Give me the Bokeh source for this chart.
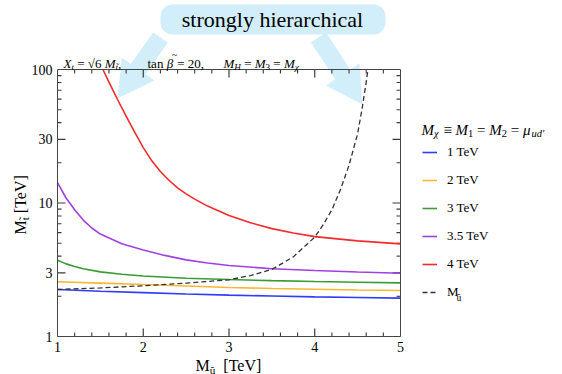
import math
from bokeh.plotting import figure
from bokeh.models import (LinearAxis, LogAxis, FixedTicker, Legend, LegendItem, Label,
                          PolyAnnotation, BoxAnnotation, Range1d, PrintfTickFormatter)
from bokeh.embed import file_html
from bokeh.resources import INLINE

SERIF = "Liberation Serif"

# ---------------- data ----------------
x_ticks = [1, 2, 3, 4, 5]
x_minor = [1.2, 1.4, 1.6, 1.8, 2.2, 2.4, 2.6, 2.8, 3.2, 3.4, 3.6, 3.8, 4.2, 4.4, 4.6, 4.8]
y_ticks = [1, 3, 10, 30, 100]
y_minor = [2, 4, 5, 6, 7, 8, 9, 20, 40, 50, 60, 70, 80, 90]

blue_x = [1.0, 1.5, 2.0, 2.5, 3.0, 3.5, 4.0, 4.5, 5.0]
blue_y = [2.25, 2.18, 2.13, 2.08, 2.04, 2.01, 1.98, 1.96, 1.94]

orange_x = [1.0, 1.5, 2.0, 2.5, 3.0, 3.5, 4.0, 4.5, 5.0]
orange_y = [2.57, 2.51, 2.45, 2.39, 2.33, 2.29, 2.26, 2.23, 2.21]

green_x = [1.0, 1.1, 1.2, 1.3, 1.5, 1.75, 2.0, 2.5, 3.0, 3.5, 4.0, 4.5, 5.0]
green_y = [3.72, 3.50, 3.35, 3.22, 3.05, 2.93, 2.84, 2.73, 2.67, 2.62, 2.58, 2.55, 2.52]

purple_x = [1.0, 1.1, 1.2, 1.3, 1.4, 1.5, 1.75, 2.0, 2.25, 2.5, 2.75, 3.0, 3.5, 4.0, 4.5, 5.0]
purple_y = [14.2, 10.9, 8.9, 7.45, 6.5, 5.85, 4.95, 4.45, 4.05, 3.75, 3.55, 3.40, 3.22, 3.12, 3.04, 2.98]

red_x = [1.53, 1.6, 1.7, 1.8, 1.9, 2.0, 2.1, 2.2, 2.3, 2.4, 2.5, 2.6, 2.75, 3.0, 3.25, 3.5, 3.75, 4.0, 4.5, 5.0]
red_y = [100, 80.4, 59.6, 44.7, 33.9, 26.0, 20.7, 17.2, 14.8, 13.0, 11.7, 10.7, 9.48, 8.05, 7.11,
         6.43, 5.96, 5.60, 5.20, 4.94]

dash_x = [1.0, 1.5, 2.0, 2.5, 3.0, 3.25, 3.5, 3.75, 4.0, 4.1, 4.2, 4.3, 4.4, 4.5, 4.55, 4.6, 4.62]
dash_y = [2.25, 2.31, 2.40, 2.51, 2.66, 2.86, 3.18, 3.95, 5.55, 6.9, 8.9, 12.6, 19.2, 33, 50, 80, 100]

series_labels = ["1 TeV", "2 TeV", "3 TeV", "3.5 TeV", "4 TeV", "M"]
series_colors = ["#2f3cff", "#f8b735", "#3a9b35", "#a040e0", "#f52a2a", "#333333"]

# ---------------- layout: frame covers the whole canvas ----------------
W, H = 562, 374
FL, FR, FT, FB = 57, 400, 69, 336          # canvas px of the plot box edges
px_per_x = (FR - FL) / (x_ticks[-1] - x_ticks[0])
px_per_dec = (FB - FT) / math.log10(y_ticks[-1] / y_ticks[0])
xr = Range1d(x_ticks[0] - FL / px_per_x, x_ticks[-1] + (W - FR) / px_per_x)
yr = Range1d(y_ticks[0] / 10 ** ((H - FB) / px_per_dec), y_ticks[-1] * 10 ** (FT / px_per_dec))

p = figure(width=W, height=H, output_backend="svg", toolbar_location=None,
           x_range=xr, y_range=yr, y_axis_type="log",
           min_border_left=0, min_border_right=0, min_border_top=0, min_border_bottom=0,
           background_fill_color="white", border_fill_color="white",
           outline_line_color=None)
p.title.visible = False
p.grid.visible = False

LINE = "#444444"
TICK = "#3a3a3a"
xb = (x_ticks[0], x_ticks[-1])
yb = (y_ticks[0], y_ticks[-1])


def no_ticks(ax):
    ax.major_tick_in = 0
    ax.major_tick_out = 0
    ax.minor_tick_in = 0
    ax.minor_tick_out = 0


# labelled axes (lines + tick labels)
bx = p.xaxis[0]
by = p.yaxis[0]
bx.ticker = FixedTicker(ticks=x_ticks)
by.ticker = FixedTicker(ticks=y_ticks)
by.formatter = PrintfTickFormatter(format="%d")
for ax, fl, bd in ((bx, y_ticks[0], xb), (by, x_ticks[0], yb)):
    ax.bounds = bd
    ax.fixed_location = fl
    ax.axis_line_color = LINE
    no_ticks(ax)
    ax.major_label_text_font = SERIF
    ax.major_label_text_color = "black"
    ax.major_label_text_font_size = "14px"
    ax.major_label_standoff = 5

# frame lines on the top and right edges
for cls, side, ticks, bd, fl in ((LinearAxis, "above", x_ticks, xb, y_ticks[-1]),
                                 (LogAxis, "right", y_ticks, yb, x_ticks[-1])):
    ax = cls(ticker=FixedTicker(ticks=ticks), bounds=bd, fixed_location=fl,
             major_label_overrides={t: "" for t in ticks})
    ax.axis_line_color = LINE
    no_ticks(ax)
    ax.major_label_standoff = 0
    ax.major_label_text_font_size = "10px"
    p.add_layout(ax, side)


# inward tick marks on all four edges, drawn from the tick lists through the scales
def edge_ticks(xt, yt, length, width):
    fy = 10 ** (length / px_per_dec)
    fx = length / px_per_x
    n, m = len(xt), len(yt)
    kw = dict(line_color=TICK, line_width=width)
    p.segment(x0=xt, y0=[yb[0]] * n, x1=xt, y1=[yb[0] * fy] * n, **kw)
    p.segment(x0=xt, y0=[yb[1]] * n, x1=xt, y1=[yb[1] / fy] * n, **kw)
    p.segment(x0=[xb[0]] * m, y0=yt, x1=[xb[0] + fx] * m, y1=yt, **kw)
    p.segment(x0=[xb[1]] * m, y0=yt, x1=[xb[1] - fx] * m, y1=yt, **kw)


edge_ticks(x_ticks[1:-1], y_ticks[1:-1], 8, 1.2)
edge_ticks(x_minor, y_minor, 4, 1.1)

# ---------------- decorations (canvas px) ----------------
HL = "#d2eefa"


def block_arrow(tail, tip, shaft_w, head_w, head_len):
    tx, ty = tail
    px, py = tip
    L = math.hypot(px - tx, py - ty)
    dx, dy = (px - tx) / L, (py - ty) / L
    nx, ny = -dy, dx
    hx, hy = px - dx * head_len, py - dy * head_len
    sw, hw = shaft_w / 2, head_w / 2
    pts = [(tx + nx * sw, ty + ny * sw), (hx + nx * sw, hy + ny * sw), (hx + nx * hw, hy + ny * hw),
           (px, py), (hx - nx * hw, hy - ny * hw), (hx - nx * sw, hy - ny * sw), (tx - nx * sw, ty - ny * sw)]
    p.add_layout(PolyAnnotation(xs=[q[0] for q in pts], ys=[q[1] for q in pts],
                                xs_units="canvas", ys_units="canvas",
                                fill_color=HL, fill_alpha=1, line_color=None, level="underlay"))


block_arrow((160, 37), (117, 98), 18, 40, 36)
block_arrow((318, 37), (362, 104), 18, 40, 36)

p.add_layout(BoxAnnotation(left=160, right=385, top=4, bottom=34,
                           left_units="canvas", right_units="canvas",
                           top_units="canvas", bottom_units="canvas",
                           fill_color=HL, fill_alpha=1, line_color=None, border_radius=12,
                           level="underlay"))

# ---------------- curves ----------------
rs = []
for xs, ys, col in [(blue_x, blue_y, series_colors[0]), (orange_x, orange_y, series_colors[1]),
                    (green_x, green_y, series_colors[2]), (purple_x, purple_y, series_colors[3]),
                    (red_x, red_y, series_colors[4])]:
    rs.append(p.line(xs, ys, line_color=col, line_width=1.6))
rs.append(p.line(dash_x, dash_y, line_color=series_colors[5], line_width=1.3, line_dash="5 3"))

legend = Legend(items=[LegendItem(label=l, renderers=[r]) for l, r in zip(series_labels, rs)],
                location=(422, 72), margin=0, padding=10, spacing=8,
                glyph_width=15, glyph_height=20, label_height=20, label_standoff=10,
                label_text_font=SERIF, label_text_font_size="13px", label_text_color="black",
                border_line_color=None, background_fill_alpha=0)
p.add_layout(legend)

# ---------------- text ----------------
ROM = {' ': 250, '=': 564, '√': 549, ',': 250, 't': 278, 'a': 444, 'n': 500, 'T': 611, 'e': 444,
       'V': 722, '[': 333, ']': 333, 'M': 889, '.': 250, '≡': 549}
ITA = {'X': 611, 't': 278, 'M': 833, 'H': 722, 'β': 566, 'χ': 549, 'μ': 576, 'u': 500, 'd': 500,
       '′': 275}


def tw(s, size, italic):
    tot = 0
    for c in s:
        if c == '\u0303':
            continue
        tot += (ITA.get(c, ROM.get(c, 500)) if italic else ROM.get(c, 500))
    return tot * size / 1000


def label(text, x, y, size, italic=False, angle=0.0, align="left", baseline="alphabetic"):
    p.add_layout(Label(x=x, y=y, x_units="canvas", y_units="canvas", text=text,
                       text_font=SERIF, text_font_size=f"{size:.1f}px",
                       text_font_style="italic" if italic else "normal",
                       text_color="black", angle=angle, text_align=align,
                       text_baseline=baseline))


def seq(pieces, x0, y0, size, vertical=False):
    pos = 0.0
    for text, italic, sub in pieces:
        fs = size * (0.7 if sub else 1.0)
        shift = size * 0.25 if sub else 0.0
        body = text.strip()
        lead = len(text) - len(text.lstrip())
        if body:
            off = pos + tw(" " * lead, fs, False)
            if vertical:
                label(body, x0 + shift, y0 - off, fs, italic, angle=math.pi / 2)
            else:
                label(body, x0 + off, y0 + shift, fs, italic)
        pos += tw(text, fs, italic)


# banner
label("strongly hierarchical", 272, 19, 22, baseline="middle", align="center")

# plot title (math)
ty = 63
seq([("X", 1, 0), ("t", 1, 1), (" = ", 0, 0), ("√6", 0, 0), (" ", 0, 0), ("M", 1, 0),
     ("t\u0303", 1, 1), (",", 0, 0)], 63, ty, 13)
seq([("tan", 0, 0), (" ", 0, 0), ("β", 1, 0), (" = 20,", 0, 0)], 147, ty, 13)
label("~", 171.5, 54, 10)   # tilde over beta
seq([("M", 1, 0), ("H", 1, 1), (" = ", 0, 0), ("M", 1, 0), ("3", 0, 1), (" = ", 0, 0),
     ("M", 1, 0), ("χ", 1, 1)], 223, ty, 13)

# legend title
seq([("M", 1, 0), ("χ", 1, 1), (" ≡ ", 0, 0), ("M", 1, 0), ("1", 0, 1), (" = ", 0, 0),
     ("M", 1, 0), ("2", 0, 1), (" = ", 0, 0), ("μ", 1, 0), ("ud′", 1, 1)], 421, 129, 15)

# subscript of the dashed legend entry
label("u\u0303", 456, 297, 9.5)

# axis labels
seq([("M", 0, 0), ("u\u0303", 0, 1), ("  [TeV]", 0, 0)], 195, 365, 16)
seq([("M", 0, 0), ("t\u0303", 0, 1), (" [TeV]", 0, 0)], 20, 234, 16, vertical=True)

open("out.html", "w").write(file_html(p, INLINE))
